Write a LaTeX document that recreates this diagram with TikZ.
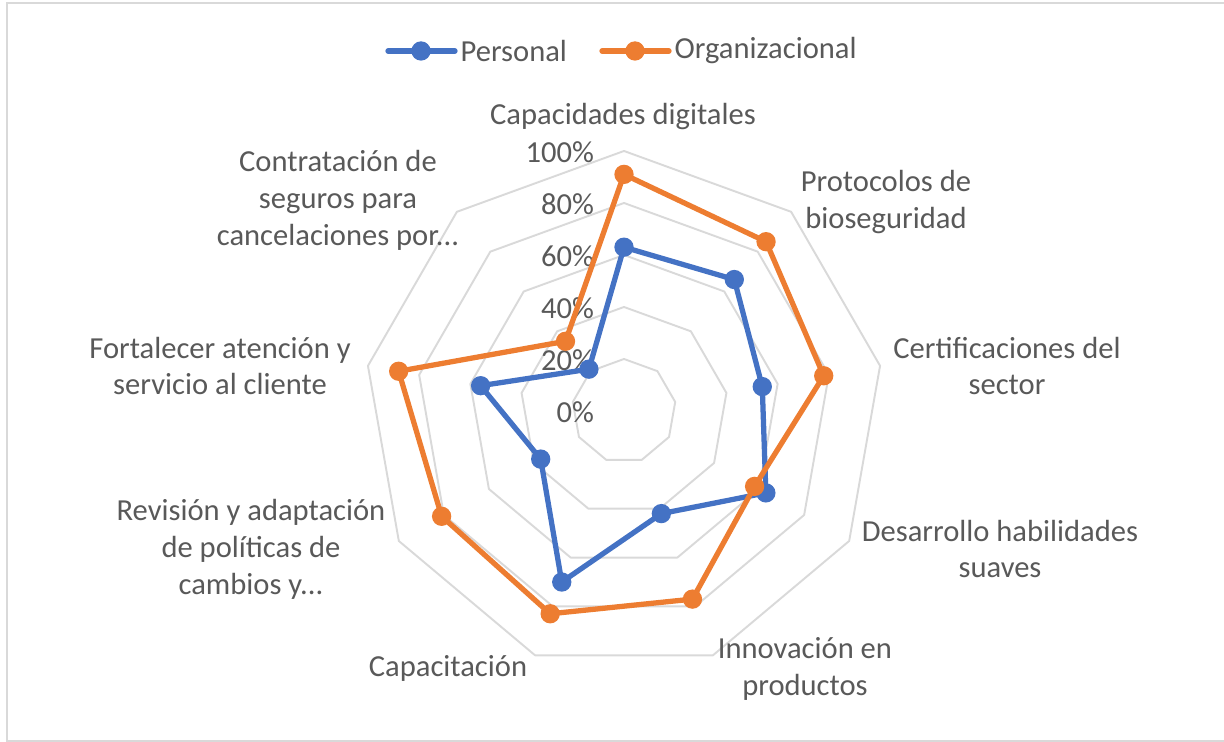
\documentclass[tikz,border=0pt]{standalone}
\usepackage{fontspec}
\setmainfont{Carlito}
\usetikzlibrary{positioning}

\definecolor{persblue}{HTML}{4472C4}
\definecolor{orgorange}{HTML}{ED7D31}
\definecolor{gridgray}{HTML}{D9D9D9}
\definecolor{textgray}{HTML}{595959}

\tikzset{
  gridline/.style={draw=gridgray, line width=1.1pt, line join=round},
  series/.style={line width=3pt, line join=round, line cap=round},
  dot/.style={circle, fill=#1, inner sep=0pt, minimum size=11pt},
  catlabel/.style={text=textgray, align=center, font=\fontsize{17.4}{21}\selectfont},
  ticklabel/.style={text=textgray, anchor=east, inner sep=1pt, font=\fontsize{17.4}{21}\selectfont},
  legtext/.style={text=textgray, anchor=west, inner sep=1pt, font=\fontsize{17.4}{21}\selectfont}
}

\begin{document}
\begin{tikzpicture}[x=0.02cm, y=0.02cm]
  \useasboundingbox (0,0) rectangle (1224,742);
  % frame of the chart
  \draw[gridgray, line width=1.2pt] (1230,739) -- (7,739) -- (7,1) -- (1230,1);

  \begin{scope}[shift={(624,331)}]
    % rings
    \foreach \r in {52,104,156,208,260}
      \draw[gridline] (90:\r) \foreach \i in {1,...,8} { -- ({90-40*\i}:\r) } -- cycle;

    % scale
    \foreach \v [count=\k from 0] in {0\%,20\%,40\%,60\%,80\%,100\%}
      \node[ticklabel] (t\k) at (-28,{52*\k-1}) {\v};

    % data points
    \foreach \v [count=\i] in {63,66,54,63,42,70,37,56,21}
      \coordinate (p\i) at ({90-40*(\i-1)}:{2.6*\v});
    \foreach \v [count=\i] in {91,85,78,58,77,83,81,88,35}
      \coordinate (o\i) at ({90-40*(\i-1)}:{2.6*\v});

    \draw[series, persblue] (p1) -- (p2) -- (p3) -- (p4) -- (p5) -- (p6) -- (p7) -- (p8) -- (p9) -- cycle;
    \draw[series, orgorange] (o1) -- (o2) -- (o3) -- (o4) -- (o5) -- (o6) -- (o7) -- (o8) -- (o9) -- cycle;
    \foreach \i in {1,...,9} {
      \node[dot=persblue] at (p\i) {};
      \node[dot=orgorange] at (o\i) {};
    }
  \end{scope}

  % categories
  \node[catlabel] (cap) at (623,625) {Capacidades digitales};
  \node[catlabel] (pro) at (886,540) {Protocolos de\\bioseguridad};
  \node[catlabel] (cer) at (1007,376) {Certificaciones del\\sector};
  \node[catlabel] (des) at (1000,193) {Desarrollo habilidades\\suaves};
  \node[catlabel] (inn) at (805,73) {Innovación en\\productos};
  \node[catlabel] (cat) at (448,74) {Capacitación};
  \node[catlabel] (rev) at (251,193) {Revisión y adaptación\\de políticas de\\cambios y...};
  \node[catlabel] (for) at (220,376) {Fortalecer atención y\\servicio al cliente};
  \node[catlabel] (con) at (338,542) {Contratación de\\seguros para\\cancelaciones por...};

  % legend
  \coordinate (pa) at (388,691);
  \coordinate (pb) at (455,691);
  \draw[series, persblue] (pa) -- (pb);
  \node[dot=persblue] at (421,691) {};
  \node[legtext, right=2pt of pb] (lp) {Personal};
  \coordinate (oa) at (602,691);
  \coordinate (ob) at (669,691);
  \draw[series, orgorange] (oa) -- (ob);
  \node[dot=orgorange] at (635,691) {};
  \node[legtext, right=2pt of ob] (lo) {Organizacional};
\end{tikzpicture}
\end{document}
